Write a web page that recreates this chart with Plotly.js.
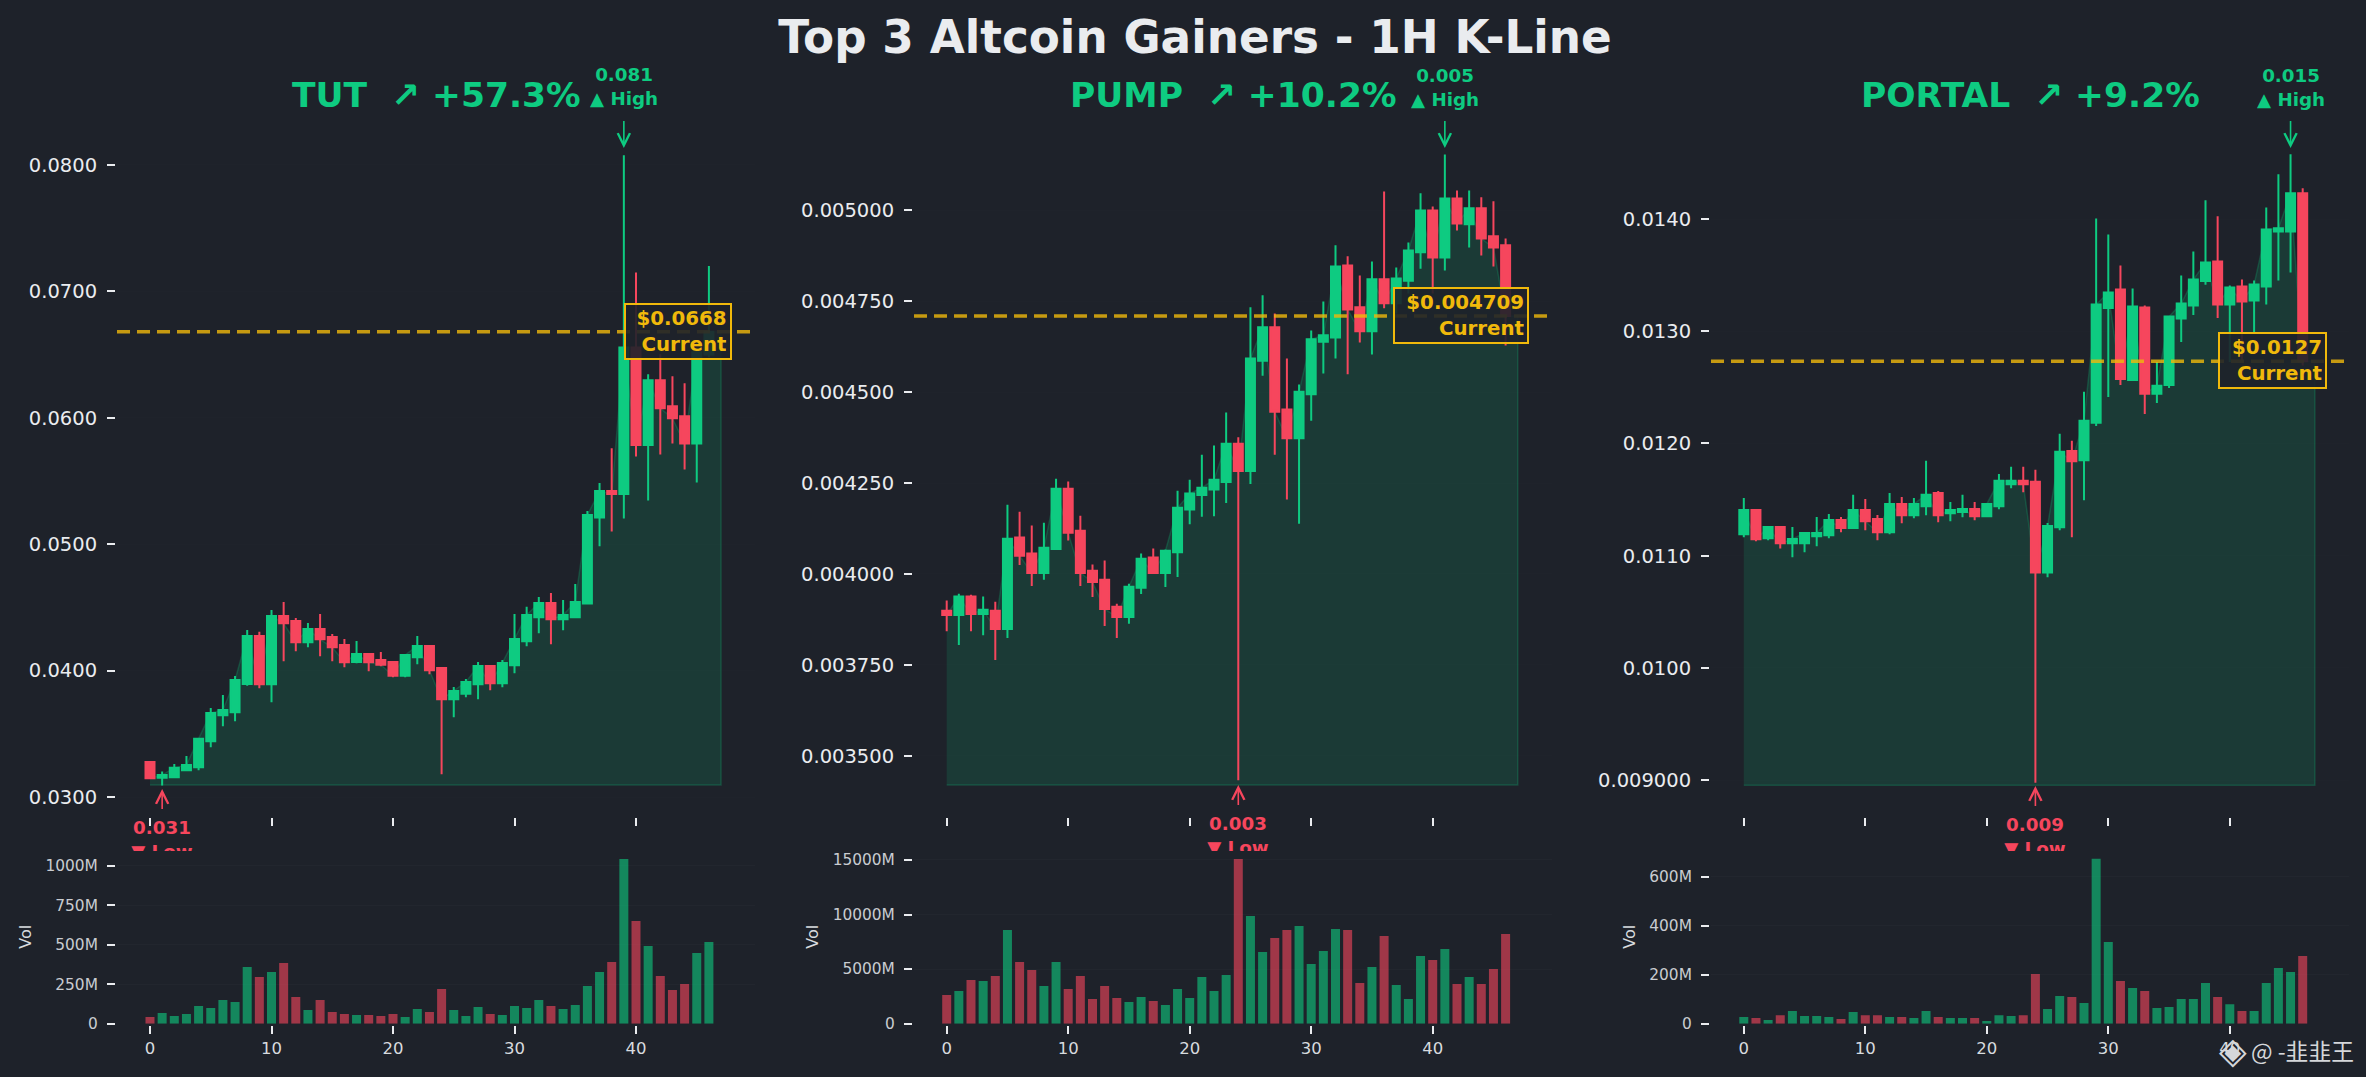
<!DOCTYPE html>
<html>
<head>
<meta charset="utf-8">
<script src="https://cdn.plot.ly/plotly-3.0.1.min.js"></script>
<style>html,body{margin:0;padding:0;background:#1e222a}</style>
</head>
<body>
<div id="chart" style="width:2366px;height:1077px"></div>
<script>
const tutOpen=[.03278,.03152,.03157,.03212,.03236,.03441,.03647,.03671,.03895,.04274,.03892,.04432,.04393,.04224,.04329,.04266,.04203,.04069,.04132,.04084,.04069,.0396,.04105,.04195,.04021,.03773,.03818,.03892,.04037,.039,.04042,.04232,.04422,.04535,.04406,.04422,.04532,.05212,.0542,.05397,.06556,.05784,.06298,.06092,.06013,.05797,.0650];
const tutClose=[.03149,.03175,.03231,.03254,.03462,.03665,.03689,.03926,.04274,.03892,.04432,.04374,.04224,.04329,.04248,.04184,.04066,.04132,.04066,.04047,.0396,.04124,.04195,.04003,.03773,.03839,.0391,.04037,.039,.04061,.0425,.0444,.04535,.04406,.0444,.04543,.05231,.0542,.05397,.06556,.05784,.06298,.06076,.05997,.05797,.06518,.0668];
const tutHigh=[.03278,.03202,.03262,.03325,.03468,.03705,.03808,.03958,.04321,.04308,.0448,.04543,.04416,.04377,.04448,.0429,.0425,.04235,.0414,.04148,.04069,.04124,.04274,.04203,.04029,.03871,.03934,.04069,.04037,.04084,.04448,.04506,.04582,.04614,.04559,.04685,.05262,.05484,.0576,.08076,.07149,.06345,.06503,.06329,.06274,.0655,.0720];
const tutLow=[.03144,.03091,.03157,.03204,.03212,.03394,.0356,.036,.03881,.0386,.0375,.04074,.04153,.04184,.04113,.04074,.04026,.04058,.03995,.04034,.03947,.03947,.0405,.03971,.03181,.03631,.03789,.03773,.03845,.03868,.03979,.04192,.04295,.04208,.04319,.04414,.04532,.04983,.05101,.05204,.05694,.05346,.0571,.05797,.05592,.05489,.0648];
const tutVol=[42,68,49,61,112,99,150,137,359,295,327,384,169,87,150,74,61,55,55,49,61,42,93,74,219,87,49,106,61,55,112,99,150,112,93,118,238,327,390,1042,650,492,302,213,251,447,517];

const pumpOpen=[.003899,.003887,.003938,.003890,.003899,.003849,.004100,.004056,.004003,.004069,.004234,.004119,.004009,.003984,.003910,.003882,.003962,.004045,.004003,.004060,.004177,.004217,.004232,.004253,.004358,.004283,.004586,.004678,.004452,.004373,.004494,.004638,.004650,.004848,.004733,.004667,.004810,.004744,.004806,.004884,.004999,.004870,.005032,.004961,.005005,.004928,.004903];
const pumpClose=[.003887,.003938,.003890,.003902,.003849,.004097,.004050,.004003,.004072,.004234,.004113,.004003,.003978,.003904,.003882,.003965,.004042,.004003,.004064,.004182,.004221,.004237,.004259,.004358,.004283,.004592,.004678,.004446,.004373,.004501,.004645,.004656,.004845,.004727,.004667,.004810,.004744,.004812,.004889,.004999,.004870,.005032,.004963,.005005,.004922,.004897,.004709];
const pumpHigh=[.003927,.003946,.003943,.003938,.003924,.004190,.004171,.004133,.004141,.004262,.004254,.004160,.004026,.004037,.003918,.003973,.004056,.004070,.004067,.004229,.004259,.004328,.004353,.004444,.004376,.004733,.004766,.004716,.004592,.004521,.004669,.004749,.004903,.004873,.004820,.004859,.005051,.004842,.004911,.005046,.005010,.005153,.005054,.005054,.005035,.005024,.004922];
const pumpLow=[.003843,.003805,.003843,.003832,.003764,.003824,.004025,.003967,.003984,.004067,.004092,.003967,.003937,.003857,.003824,.003863,.003945,.004000,.003964,.003992,.004137,.004157,.004159,.004195,.003433,.004247,.004545,.004328,.004205,.004138,.004421,.004551,.004592,.004549,.004636,.004603,.004730,.004716,.004771,.004839,.004771,.004834,.004944,.004897,.004875,.004845,.004628];
const pumpVol=[2627,2994,4002,3910,4369,8585,5652,4919,3452,5652,3177,4369,2261,3452,2352,1986,2444,2077,1711,3177,2352,4277,2994,4460,15092,9868,6568,7851,8585,8951,5468,6660,8676,8585,3727,5194,8035,3544,2261,6202,5835,6843,3635,4277,3635,5010,8218];

const portalOpen=[.011190,.011408,.011155,.011256,.011110,.011110,.011173,.011182,.011318,.011247,.011408,.011327,.011208,.011461,.011360,.011440,.011559,.011378,.011390,.011417,.011351,.011440,.011637,.011667,.011658,.010851,.011253,.011934,.011851,.012185,.013208,.013372,.012566,.013211,.012443,.012521,.013113,.013229,.013449,.013622,.013238,.013399,.013274,.013399,.013890,.013890,.014229];
const portalClose=[.011408,.011146,.011256,.011110,.011149,.011202,.011202,.011318,.011247,.011408,.011307,.011208,.011461,.011360,.011461,.011542,.011360,.011408,.011417,.011351,.011461,.011667,.011667,.011637,.010851,.011265,.011926,.011842,.012202,.013238,.013345,.012574,.013220,.012443,.012515,.013131,.013247,.013461,.013613,.013238,.013390,.013265,.013417,.013908,.013917,.014229,.012732];
const portalHigh=[.011515,.011417,.011265,.011265,.011256,.011202,.011345,.011372,.011345,.011542,.011506,.011363,.011559,.011524,.011515,.011845,.011577,.011479,.011542,.011479,.011461,.011729,.011792,.011792,.011765,.011292,.012086,.012024,.012461,.014006,.013863,.013586,.013381,.013229,.012726,.013140,.013497,.013711,.014167,.014024,.013408,.013461,.013452,.014104,.014399,.014577,.014274];
const portalLow=[.011164,.011128,.011137,.011065,.010985,.011030,.011083,.011155,.011208,.011244,.011226,.011137,.011190,.011289,.011333,.011360,.011298,.011307,.011342,.011315,.011342,.011414,.011601,.011565,.008976,.010807,.011226,.011164,.011494,.012155,.012414,.012521,.012557,.012262,.012360,.012494,.012905,.013146,.013414,.013119,.012726,.012741,.012979,.013238,.013452,.013524,.012696];
const portalVol=[27,23,15,35,52,31,31,27,19,48,35,35,27,27,23,52,27,23,23,23,11,35,31,35,203,60,113,109,85,674,334,175,146,134,64,68,101,101,166,109,80,52,52,166,228,211,277];

const xTickVals=[0,10,20,30,40];
const tutTickVals=[.03,.04,.05,.06,.07,.08];
const tutTickText=['0.0300','0.0400','0.0500','0.0600','0.0700','0.0800'];
const pumpTickVals=[.0035,.00375,.004,.00425,.0045,.00475,.005];
const pumpTickText=['0.003500','0.003750','0.004000','0.004250','0.004500','0.004750','0.005000'];
const portalTickVals=[.009,.010,.011,.012,.013,.014];
const portalTickText=['0.009000','0.0100','0.0110','0.0120','0.0130','0.0140'];
const tutVolVals=[0,250,500,750,1000], tutVolText=['0','250M','500M','750M','1000M'];
const pumpVolVals=[0,5000,10000,15000], pumpVolText=['0','5000M','10000M','15000M'];
const portalVolVals=[0,200,400,600], portalVolText=['0','200M','400M','600M'];

const W=2366,H=1077;
const GREEN='#0ecb81',RED='#f6465d',GOLD='#f0b90b',BG='#1e222a',SPINE='#2b3139',LIGHT='#eaecef';
const FONT='"DejaVu Sans", sans-serif';
const px=x=>x/W, py=y=>1-y/H;

const panels=[
 {name:'TUT',change:'+57.3%',o:tutOpen,c:tutClose,h:tutHigh,l:tutLow,v:tutVol,left:117,right:755,x0:150,
  yr:[.0285,.0834],yt:tutTickVals,ytt:tutTickText,vr:[0,1099],vt:tutVolVals,vtt:tutVolText,
  cur:.0668,curText:'$0.0668',base:.03095,hi:39,hiText:'0.081',hiY:86.5,lo:1,loText:'0.031',loTop:816,
  box:[624,731.5,303,360]},
 {name:'PUMP',change:'+10.2%',o:pumpOpen,c:pumpClose,h:pumpHigh,l:pumpLow,v:pumpVol,left:914,right:1552,x0:946.7,
  yr:[.003335,.005242],yt:pumpTickVals,ytt:pumpTickText,vr:[0,15906],vt:pumpVolVals,vtt:pumpVolText,
  cur:.004709,curText:'$0.004709',base:.00342,hi:41,hiText:'0.005',hiY:87.5,lo:24,loText:'0.003',loTop:812,
  box:[1393,1529,287,344]},
 {name:'PORTAL',change:'+9.2%',o:portalOpen,c:portalClose,h:portalHigh,l:portalLow,v:portalVol,left:1711,right:2349,x0:1743.8,
  yr:[.00868,.014865],yt:portalTickVals,ytt:portalTickText,vr:[0,710],vt:portalVolVals,vtt:portalVolText,
  cur:.012732,curText:'$0.0127',base:.008955,hi:45,hiText:'0.015',hiY:87.5,lo:24,loText:'0.009',loTop:813,
  box:[2218,2327,332,389]}
];

const data=[],shapes=[],annotations=[];
const layout={width:W,height:H,paper_bgcolor:BG,plot_bgcolor:BG,margin:{l:0,r:0,t:0,b:0},showlegend:false,
  hovermode:false,boxgap:0.26,boxgroupgap:0,font:{family:FONT,color:LIGHT},
  title:{text:'Top 3 Altcoin Gainers - 1H K-Line',x:1195/W,xanchor:'center',y:1-37/H,yanchor:'middle',
    font:{family:FONT,size:45.3,color:LIGHT,weight:'bold'}},
  shapes,annotations};

panels.forEach((p,i)=>{
  const a=2*i+1,b=2*i+2;
  const xa='x'+(a===1?'':a),ya='y'+(a===1?'':a),xb='x'+b,yb='y'+b;
  const k=a===1?'':a;
  const idx=p.c.map((_,j)=>j);
  const unit=12.15;
  const xr=[(p.left-p.x0)/unit,(p.right-p.x0)/unit];

  const fillX=idx.concat([p.c.length,p.c.length,0]);
  const fillY=p.c.concat([p.c[p.c.length-1],p.base,p.base]);
  data.push({type:'scatter',mode:'lines',x:fillX,y:fillY,xaxis:xa,yaxis:ya,fill:'toself',zorder:-1,
    fillcolor:'rgba(14,203,129,0.15)',line:{color:'rgba(14,203,129,0.22)',width:1.5},hoverinfo:'skip'});
  data.push({type:'candlestick',x:idx,open:p.o,high:p.h,low:p.l,close:p.c,xaxis:xa,yaxis:ya,whiskerwidth:0,
    increasing:{line:{color:GREEN,width:2},fillcolor:GREEN},decreasing:{line:{color:RED,width:2},fillcolor:RED},hoverinfo:'skip'});
  data.push({type:'bar',x:idx,y:p.v,xaxis:xb,yaxis:yb,width:0.74,
    marker:{color:p.c.map((c,j)=>c>=p.o[j]?GREEN:RED),opacity:0.6,line:{width:0}},hoverinfo:'skip'});

  const axisCommon={showgrid:false,zeroline:false,showline:true,linecolor:SPINE,linewidth:2,ticks:'outside',
    tickcolor:LIGHT,tickwidth:2,ticklen:8};
  layout['xaxis'+k]=Object.assign({},axisCommon,{domain:[px(p.left),px(p.right)],anchor:ya,range:xr,tickmode:'array',tickvals:xTickVals,
    showticklabels:false,rangeslider:{visible:false}});
  layout['yaxis'+k]=Object.assign({},axisCommon,{domain:[py(816),py(122)],anchor:xa,range:p.yr,tickmode:'array',tickvals:p.yt,ticktext:p.ytt,
    tickfont:{family:FONT,size:19.5,color:LIGHT},ticklabelstandoff:6,showgrid:true,gridcolor:'rgba(255,255,255,0.008)',gridwidth:1});
  layout['xaxis'+b]=Object.assign({},axisCommon,{domain:[px(p.left),px(p.right)],anchor:yb,range:xr,tickmode:'array',tickvals:xTickVals,
    tickfont:{family:FONT,size:16.5,color:'#d8dbdf'}});
  layout['yaxis'+b]=Object.assign({},axisCommon,{domain:[py(1023.7),py(850)],anchor:xb,range:p.vr,tickmode:'array',tickvals:p.vt,ticktext:p.vtt,
    tickfont:{family:FONT,size:15.4,color:'#c9ccd1'},ticklabelstandoff:6,showgrid:true,gridcolor:'rgba(255,255,255,0.02)',gridwidth:1,
    title:{text:'Vol',standoff:10,font:{family:FONT,size:16,color:'#d8dbdf'}}});

  shapes.push({type:'line',xref:xa,yref:ya,x0:xr[0],x1:xr[1],y0:p.cur,y1:p.cur,layer:'above',opacity:0.8,
    line:{color:GOLD,width:3.5,dash:'13px,7px'}});

  annotations.push({xref:'paper',yref:'paper',x:px((p.left+p.right)/2),y:py(95),xanchor:'center',yanchor:'middle',showarrow:false,
    text:p.name+'\u00a0\u00a0↗ '+p.change,font:{family:FONT,size:34.5,color:GREEN,weight:'bold'}});
  annotations.push({xref:xa,yref:'paper',x:p.hi,y:py(p.hiY),xanchor:'center',yanchor:'middle',showarrow:false,borderpad:0,
    text:p.hiText+'<br>▲ High',font:{family:FONT,size:18.3,color:GREEN,weight:'bold'}});
  annotations.push({xref:xa,yref:'paper',x:p.hi,y:py(148),ax:0,ay:-28,axref:'pixel',ayref:'pixel',showarrow:true,text:' ',borderpad:0,
    font:{size:1},arrowhead:5,arrowsize:1.5,arrowwidth:1.6,arrowcolor:GREEN});
  annotations.push({xref:xa,yref:'paper',x:p.lo,y:py(p.loTop),xanchor:'center',yanchor:'top',showarrow:false,borderpad:0,
    height:850-p.loTop,valign:'top',width:120,
    text:p.loText+'<br>▼ Low',font:{family:FONT,size:18.3,color:RED,weight:'bold'}});
  annotations.push({xref:xa,yref:'paper',x:p.lo,y:py(p.loTop-27),ax:0,ay:21,axref:'pixel',ayref:'pixel',showarrow:true,text:' ',borderpad:0,
    font:{size:1},arrowhead:5,arrowsize:1.5,arrowwidth:1.6,arrowcolor:RED});
  const [bx0,bx1,by0,by1]=p.box;
  annotations.push({xref:'paper',yref:'paper',x:px((bx0+bx1)/2),y:py((by0+by1)/2),xanchor:'center',yanchor:'middle',showarrow:false,
    width:bx1-bx0-10,height:by1-by0-10,align:'right',valign:'middle',borderpad:3,borderwidth:2,bordercolor:GOLD,bgcolor:'rgba(30,34,42,0.9)',
    text:p.curText+'<br>Current',font:{family:FONT,size:19.8,color:GOLD,weight:'bold'}});
});

annotations.push({xref:'paper',yref:'paper',x:px(2356),y:py(1050),xanchor:'right',yanchor:'middle',showarrow:false,
  text:'@ -韭韭王',font:{family:'"Noto Sans CJK SC", "DejaVu Sans", sans-serif',size:22.8,color:'#d5d7da'}});
annotations.push({xref:'paper',yref:'paper',x:px(2233),y:py(1050),xanchor:'center',yanchor:'middle',showarrow:false,
  text:'◈',font:{family:FONT,size:36,color:'#d5d7da'}});

Plotly.newPlot('chart',data,layout,{displayModeBar:false,staticPlot:true});
</script>
</body>
</html>
